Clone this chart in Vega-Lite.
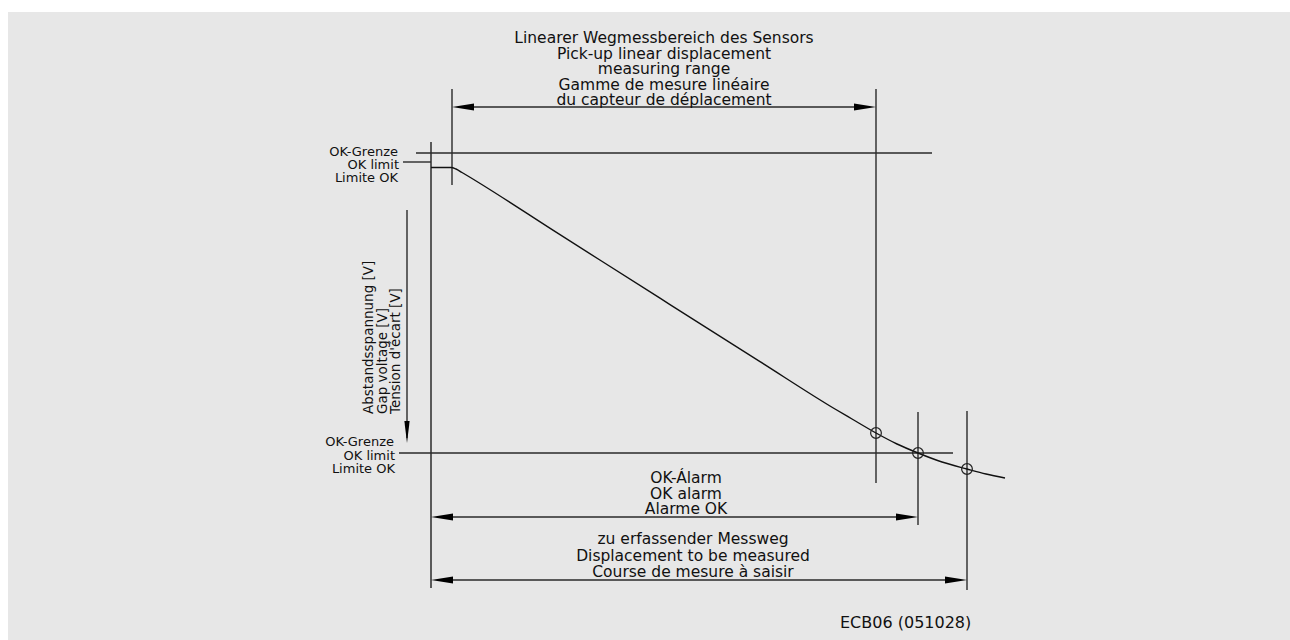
{
  "$schema": "https://vega.github.io/schema/vega-lite/v6.json",
  "width": 1290,
  "height": 640,
  "autosize": "none",
  "padding": 0,
  "background": "#ffffff",
  "config": {"view": {"stroke": null}},
  "datasets": {
    "bg": [{"x": 8, "y": 12, "x2": 1290, "y2": 640}],
    "axis": [{"x": 431, "y": 142, "x2": 431, "y2": 588}],
    "segs": [
      {"x": 452, "y": 89, "x2": 452, "y2": 185},
      {"x": 876, "y": 89, "x2": 876, "y2": 483},
      {"x": 918, "y": 412, "x2": 918, "y2": 525},
      {"x": 967, "y": 411, "x2": 967, "y2": 590},
      {"x": 416, "y": 153, "x2": 932, "y2": 153},
      {"x": 403, "y": 162, "x2": 431, "y2": 162},
      {"x": 399, "y": 453, "x2": 953, "y2": 453},
      {"x": 407, "y": 210, "x2": 407, "y2": 438},
      {"x": 460, "y": 107, "x2": 868, "y2": 107},
      {"x": 440, "y": 517, "x2": 910, "y2": 517},
      {"x": 440, "y": 580, "x2": 958, "y2": 580}
    ],
    "curve": [
      {"x": 431, "y": 167.5},
      {"x": 451, "y": 167.5},
      {"x": 456, "y": 169},
      {"x": 462, "y": 172.5},
      {"x": 560, "y": 234.7},
      {"x": 660, "y": 298.2},
      {"x": 760, "y": 361.6},
      {"x": 835, "y": 409},
      {"x": 852, "y": 419},
      {"x": 876, "y": 433},
      {"x": 897, "y": 444},
      {"x": 918, "y": 453},
      {"x": 942, "y": 462},
      {"x": 967, "y": 469},
      {"x": 986, "y": 474},
      {"x": 1005, "y": 478}
    ],
    "marks": [
      {"x": 876, "y": 433},
      {"x": 918, "y": 453},
      {"x": 967, "y": 469}
    ],
    "heads": [
      {"x": 452, "y": 107, "dir": "left"},
      {"x": 876, "y": 107, "dir": "right"},
      {"x": 407, "y": 443, "dir": "down"},
      {"x": 431, "y": 517, "dir": "left"},
      {"x": 918, "y": 517, "dir": "right"},
      {"x": 431, "y": 580, "dir": "left"},
      {"x": 967, "y": 580, "dir": "right"}
    ],
    "ctext": [
      {"x": 664, "y": 43, "t": "Linearer Wegmessbereich des Sensors"},
      {"x": 664, "y": 58.5, "t": "Pick-up linear displacement"},
      {"x": 664, "y": 74, "t": "measuring range"},
      {"x": 664, "y": 89.5, "t": "Gamme de mesure linéaire"},
      {"x": 664, "y": 105, "t": "du capteur de déplacement"},
      {"x": 686, "y": 483, "t": "OK-Álarm"},
      {"x": 686, "y": 498.5, "t": "OK alarm"},
      {"x": 686, "y": 514, "t": "Alarme OK"},
      {"x": 693, "y": 544, "t": "zu erfassender Messweg"},
      {"x": 693, "y": 560.5, "t": "Displacement to be measured"},
      {"x": 693, "y": 577, "t": "Course de mesure à saisir"}
    ],
    "rtext": [
      {"x": 398, "y": 156, "t": "OK-Grenze"},
      {"x": 399, "y": 168.5, "t": "OK limit"},
      {"x": 398, "y": 181.5, "t": "Limite OK"},
      {"x": 394, "y": 446, "t": "OK-Grenze"},
      {"x": 395, "y": 459.5, "t": "OK limit"},
      {"x": 395, "y": 472.5, "t": "Limite OK"}
    ],
    "vtext": [
      {"x": 373, "y": 414, "t": "Abstandsspannung [V]"},
      {"x": 386.5, "y": 414, "t": "Gap voltage [V]"},
      {"x": 400, "y": 414, "t": "Tension d'écart [V]"}
    ],
    "ltext": [
      {"x": 840, "y": 628, "t": "ECB06 (051028)"}
    ]
  },
  "layer": [
    {
      "data": {"name": "bg"},
      "mark": {"type": "rect", "fill": "#e7e7e7"},
      "encoding": {
        "x": {"field": "x", "type": "quantitative", "scale": {"domain": [0, 1290], "nice": false, "zero": false}, "axis": null},
        "x2": {"field": "x2"},
        "y": {"field": "y", "type": "quantitative", "scale": {"domain": [0, 640], "reverse": true, "nice": false, "zero": false}, "axis": null},
        "y2": {"field": "y2"}
      }
    },
    {
      "data": {"name": "axis"},
      "mark": {"type": "rule", "stroke": "#5a5a5a", "strokeWidth": 2},
      "encoding": {
        "x": {"field": "x", "type": "quantitative", "scale": {"domain": [0, 1290], "nice": false, "zero": false}, "axis": null},
        "x2": {"field": "x2"},
        "y": {"field": "y", "type": "quantitative", "scale": {"domain": [0, 640], "reverse": true, "nice": false, "zero": false}, "axis": null},
        "y2": {"field": "y2"}
      }
    },
    {
      "data": {"name": "segs"},
      "mark": {"type": "rule", "stroke": "#2a2a2a", "strokeWidth": 1.4},
      "encoding": {
        "x": {"field": "x", "type": "quantitative", "scale": {"domain": [0, 1290], "nice": false, "zero": false}, "axis": null},
        "x2": {"field": "x2"},
        "y": {"field": "y", "type": "quantitative", "scale": {"domain": [0, 640], "reverse": true, "nice": false, "zero": false}, "axis": null},
        "y2": {"field": "y2"}
      }
    },
    {
      "data": {"name": "curve"},
      "mark": {"type": "line", "stroke": "#111111", "strokeWidth": 1.4, "interpolate": "monotone"},
      "encoding": {
        "x": {"field": "x", "type": "quantitative", "scale": {"domain": [0, 1290], "nice": false, "zero": false}, "axis": null},
        "y": {"field": "y", "type": "quantitative", "scale": {"domain": [0, 640], "reverse": true, "nice": false, "zero": false}, "axis": null}
      }
    },
    {
      "data": {"name": "marks"},
      "mark": {"type": "point", "shape": "circle", "filled": false, "stroke": "#222222", "strokeWidth": 1.2, "size": 115, "opacity": 1},
      "encoding": {
        "x": {"field": "x", "type": "quantitative", "scale": {"domain": [0, 1290], "nice": false, "zero": false}, "axis": null},
        "y": {"field": "y", "type": "quantitative", "scale": {"domain": [0, 640], "reverse": true, "nice": false, "zero": false}, "axis": null}
      }
    },
    {
      "data": {"name": "heads"},
      "mark": {"type": "point", "filled": true, "fill": "#000000", "strokeWidth": 0, "size": 484, "opacity": 1},
      "encoding": {
        "x": {"field": "x", "type": "quantitative", "scale": {"domain": [0, 1290], "nice": false, "zero": false}, "axis": null},
        "y": {"field": "y", "type": "quantitative", "scale": {"domain": [0, 640], "reverse": true, "nice": false, "zero": false}, "axis": null},
        "shape": {
          "field": "dir",
          "type": "nominal",
          "scale": {
            "domain": ["left", "right", "down"],
            "range": ["M0,0L2,-0.32L2,0.32Z", "M0,0L-2,-0.32L-2,0.32Z", "M0,0L-0.24,-2L0.24,-2Z"]
          },
          "legend": null
        }
      }
    },
    {
      "data": {"name": "ctext"},
      "mark": {"type": "text", "align": "center", "baseline": "alphabetic", "font": "DejaVu Sans", "fontSize": 15.5, "color": "#111111"},
      "encoding": {
        "x": {"field": "x", "type": "quantitative", "scale": {"domain": [0, 1290], "nice": false, "zero": false}, "axis": null},
        "y": {"field": "y", "type": "quantitative", "scale": {"domain": [0, 640], "reverse": true, "nice": false, "zero": false}, "axis": null},
        "text": {"field": "t"}
      }
    },
    {
      "data": {"name": "rtext"},
      "mark": {"type": "text", "align": "right", "baseline": "alphabetic", "font": "DejaVu Sans", "fontSize": 13, "color": "#111111"},
      "encoding": {
        "x": {"field": "x", "type": "quantitative", "scale": {"domain": [0, 1290], "nice": false, "zero": false}, "axis": null},
        "y": {"field": "y", "type": "quantitative", "scale": {"domain": [0, 640], "reverse": true, "nice": false, "zero": false}, "axis": null},
        "text": {"field": "t"}
      }
    },
    {
      "data": {"name": "vtext"},
      "mark": {"type": "text", "align": "left", "baseline": "alphabetic", "angle": 270, "font": "DejaVu Sans", "fontSize": 13.5, "color": "#111111"},
      "encoding": {
        "x": {"field": "x", "type": "quantitative", "scale": {"domain": [0, 1290], "nice": false, "zero": false}, "axis": null},
        "y": {"field": "y", "type": "quantitative", "scale": {"domain": [0, 640], "reverse": true, "nice": false, "zero": false}, "axis": null},
        "text": {"field": "t"}
      }
    },
    {
      "data": {"name": "ltext"},
      "mark": {"type": "text", "align": "left", "baseline": "alphabetic", "font": "DejaVu Sans", "fontSize": 16, "color": "#111111"},
      "encoding": {
        "x": {"field": "x", "type": "quantitative", "scale": {"domain": [0, 1290], "nice": false, "zero": false}, "axis": null},
        "y": {"field": "y", "type": "quantitative", "scale": {"domain": [0, 640], "reverse": true, "nice": false, "zero": false}, "axis": null},
        "text": {"field": "t"}
      }
    }
  ]
}
